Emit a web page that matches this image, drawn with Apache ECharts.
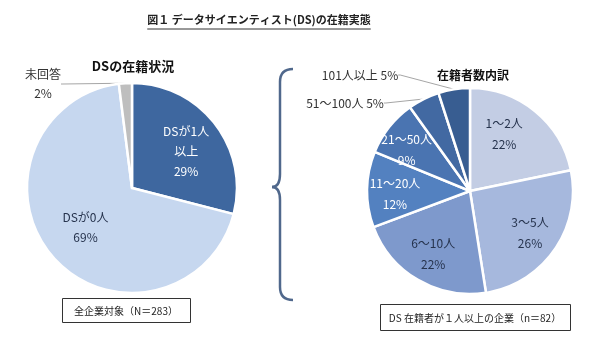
<!DOCTYPE html>
<html><head><meta charset="utf-8">
<script src="https://cdn.jsdelivr.net/npm/echarts@6/dist/echarts.min.js"></script>
<style>html,body{margin:0;padding:0;background:#fff}#c{width:600px;height:350px}</style>
</head><body><div id="c"></div>
<script>
// ---- data ----
const mainTitle = '図１ データサイエンティスト(DS)の在籍実態';
const leftTitle = 'DSの在籍状況';
const rightTitle = '在籍者数内訳';
const leftNote = '全企業対象（N＝283）';
const rightNote = 'DS 在籍者が１人以上の企業（n＝82）';

const leftNames = ['DSが1人\n以上', 'DSが0人', '未回答'];
const leftValues = [29, 69, 2];

const rightNames = ['1～2人', '3～5人', '6～10人', '11～20人', '21～50人', '51～100人', '101人以上'];
const rightValues = [22, 26, 22, 12, 9, 5, 5];

// ---- style ----
const FONT = "'Noto Sans CJK JP', 'Noto Sans', sans-serif";
const leftColors = ['#3e679f', '#c6d7ef', '#bebebe'];
const leftLabelColors = ['#ffffff', '#26334d', '#333333'];
const leftInside = [true, true, false];

const rightColors = ['#c3cde4', '#a6b8dd', '#7e99cc', '#5381c0', '#4a74b1', '#4269a2', '#385d91'];
const rightLabelColors = ['#26334d', '#26334d', '#26334d', '#ffffff', '#ffffff', '#333333', '#333333'];
const rightInside = [true, true, true, true, true, false, false];

const leftCenter = [132, 188], leftR = 105;
const rightCenter = [470, 191], rightR = 103;

// label placement tweaks (layout only)
const leftOutsidePos = { 2: { x: 43, y: 84 } };
const rightOutsidePos = { 6: { x: 360, y: 75 }, 5: { x: 345, y: 103 } };
const leftInsideNudge = { 0: { dx: 2, dy: 4 }, 1: { dx: 3, dy: -4 } };
const rightInsideNudge = { 0: { dx: -12, dy: 0 }, 4: { dx: -6, dy: 4 }, 3: { dx: -2, dy: 4 } };

function mainData(names, values, colors, inside) {
  return values.map((v, i) => ({
    name: names[i], value: v,
    itemStyle: { color: colors[i] },
    label: { show: !inside[i] },
    labelLine: { show: !inside[i] }
  }));
}
function overlayData(names, values, labelColors, inside) {
  return values.map((v, i) => ({
    name: names[i], value: v,
    itemStyle: { color: 'rgba(0,0,0,0)' },
    label: { show: inside[i], color: labelColors[i] }
  }));
}

const TITLE_FONT = 'bold 11px ' + FONT;
const measure = document.createElement('canvas').getContext('2d');
measure.font = TITLE_FONT;
const titleW = measure.measureText(mainTitle).width;
const titleCx = 259;

const braceStyle = { stroke: '#50688c', lineWidth: 2.5, fill: null };

const chart = echarts.init(document.getElementById('c'), null, { renderer: 'canvas' });
chart.setOption({
  animation: false,
  backgroundColor: '#fff',
  textStyle: { fontFamily: FONT },
  series: [
    {
      type: 'pie', center: leftCenter, radius: leftR, startAngle: 90, clockwise: true,
      avoidLabelOverlap: false, silent: true,
      itemStyle: { borderColor: '#fff', borderWidth: 2.5 },
      data: mainData(leftNames, leftValues, leftColors, leftInside),
      label: {
        position: 'outside', fontFamily: FONT, fontSize: 12, color: '#333', lineHeight: 19,
        padding: [19, 0, 0, 0],
        formatter: p => p.name + '\n' + p.value + '%'
      },
      labelLine: { length: 5, length2: 2, lineStyle: { color: '#a6a6a6', width: 1 } },
      labelLayout: p => leftOutsidePos[p.dataIndex] ? Object.assign({ align: 'center', verticalAlign: 'middle' }, leftOutsidePos[p.dataIndex]) : {}
    },
    {
      type: 'pie', center: leftCenter, radius: leftR * 1.2, startAngle: 90, clockwise: true,
      avoidLabelOverlap: false, silent: true, z: 3,
      data: overlayData(leftNames, leftValues, leftLabelColors, leftInside),
      label: { position: 'inside', fontFamily: FONT, fontSize: 12, lineHeight: 20,
        formatter: p => p.name + '\n' + p.value + '%' },
      labelLine: { show: false },
      labelLayout: p => leftInsideNudge[p.dataIndex] || {}
    },
    {
      type: 'pie', center: rightCenter, radius: rightR, startAngle: 90, clockwise: true,
      avoidLabelOverlap: false, silent: true,
      itemStyle: { borderColor: '#fff', borderWidth: 2.5 },
      data: mainData(rightNames, rightValues, rightColors, rightInside),
      label: { position: 'outside', fontFamily: FONT, fontSize: 12, color: '#333',
        formatter: p => p.name + ' ' + p.value + '%' },
      labelLine: { length: 5, length2: 2, lineStyle: { color: '#a6a6a6', width: 1 } },
      labelLayout: p => rightOutsidePos[p.dataIndex] ? Object.assign({ align: 'center', verticalAlign: 'middle' }, rightOutsidePos[p.dataIndex]) : {}
    },
    {
      type: 'pie', center: rightCenter, radius: rightR * 1.36, startAngle: 90, clockwise: true,
      avoidLabelOverlap: false, silent: true, z: 3,
      data: overlayData(rightNames, rightValues, rightLabelColors, rightInside),
      label: { position: 'inside', fontFamily: FONT, fontSize: 12, lineHeight: 21,
        formatter: p => p.name + '\n' + p.value + '%' },
      labelLine: { show: false },
      labelLayout: p => rightInsideNudge[p.dataIndex] || {}
    }
  ],
  graphic: [
    { type: 'text', x: titleCx, y: 20, style: { text: mainTitle, font: TITLE_FONT, fill: '#222', align: 'center', verticalAlign: 'middle' } },
    { type: 'line', shape: { x1: titleCx - titleW / 2, y1: 29, x2: titleCx + titleW / 2, y2: 29 }, style: { stroke: '#333', lineWidth: 1 } },
    { type: 'text', x: 133, y: 66, style: { text: leftTitle, font: 'bold 13px ' + FONT, fill: '#111', align: 'center', verticalAlign: 'middle' } },
    { type: 'text', x: 473, y: 75, style: { text: rightTitle, font: 'bold 12px ' + FONT, fill: '#111', align: 'center', verticalAlign: 'middle' } },
    { type: 'bezierCurve', shape: { x1: 293, y1: 69, cpx1: 280, cpy1: 69, x2: 280, y2: 82 }, style: braceStyle },
    { type: 'line', shape: { x1: 280, y1: 82, x2: 280, y2: 174 }, style: braceStyle },
    { type: 'bezierCurve', shape: { x1: 280, y1: 174, cpx1: 280, cpy1: 187, x2: 272, y2: 187 }, style: braceStyle },
    { type: 'bezierCurve', shape: { x1: 272, y1: 187, cpx1: 280, cpy1: 187, x2: 280, y2: 200 }, style: braceStyle },
    { type: 'line', shape: { x1: 280, y1: 200, x2: 280, y2: 287 }, style: braceStyle },
    { type: 'bezierCurve', shape: { x1: 280, y1: 287, cpx1: 280, cpy1: 300, x2: 293, y2: 300 }, style: braceStyle },
    { type: 'rect', shape: { x: 62.5, y: 298.5, width: 128, height: 24 }, style: { stroke: '#333', lineWidth: 1, fill: '#fff' } },
    { type: 'text', x: 126, y: 311, style: { text: leftNote, font: '10px ' + FONT, fill: '#222', align: 'center', verticalAlign: 'middle' } },
    { type: 'rect', shape: { x: 380.5, y: 304.5, width: 190, height: 26 }, style: { stroke: '#333', lineWidth: 1, fill: '#fff' } },
    { type: 'text', x: 475, y: 318, style: { text: rightNote, font: '10px ' + FONT, fill: '#222', align: 'center', verticalAlign: 'middle' } }
  ]
});
</script>
</body></html>
